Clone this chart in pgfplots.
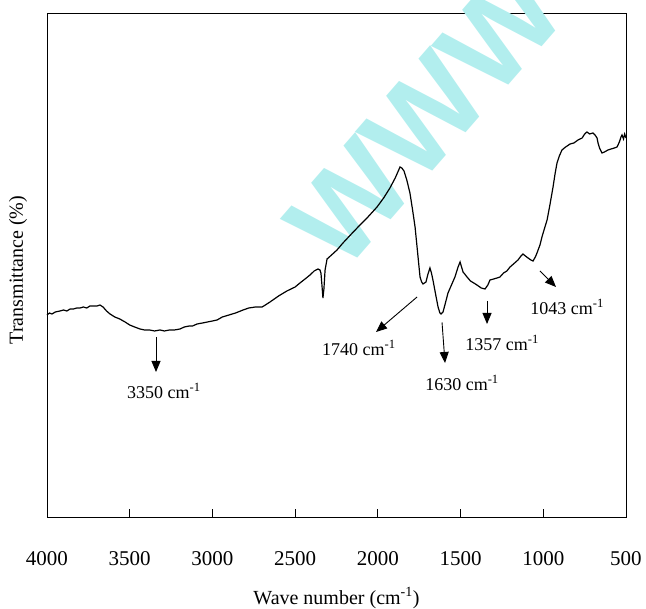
\documentclass[border=0pt]{standalone}
\usepackage{fontspec}
\setmainfont{Liberation Serif}
\newfontfamily\wmfont{Liberation Sans}
\usepackage{pgfplots}
\pgfplotsset{compat=1.18}
\usetikzlibrary{arrows.meta}
\definecolor{wmcyan}{RGB}{178,238,238}
\begin{document}
\begin{tikzpicture}
\begin{axis}[
  name=ax,
  scale only axis,
  width=579pt, height=504pt,
  xmin=500, xmax=4000, ymin=0, ymax=504,
  x dir=reverse,
  clip=false,
  xtick={500,1000,...,4000},
  ytick=\empty,
  tick pos=lower,
  tick align=inside,
  major tick length=8pt,
  axis line style={line width=0.9pt},
  every tick/.style={line width=0.9pt,black},
  /pgf/number format/assume math mode=true,
  /pgf/number format/1000 sep={},
  xticklabel style={font=\fontsize{21}{24}\selectfont, yshift=-31pt},
  xlabel={Wave number (cm\textsuperscript{-1})},
  ylabel={Transmittance (\%)},
  xlabel style={font=\fontsize{20}{24}\selectfont, at={(axis description cs:0.5,0)}, anchor=center, yshift=-81pt},
  ylabel style={font=\fontsize{20}{24}\selectfont, at={(axis description cs:-0.05,0.49)}, anchor=center},
]
\node[overlay, rotate=49, text=wmcyan, font=\wmfont\bfseries\fontsize{122}{122}\selectfont] at (axis cs:1715,400) {WWW};
\addplot[black, line width=1.2pt] coordinates {
(4000,202) (3985,204) (3970,203) (3950,205) (3921,206) (3900,207) (3880,206) (3860,208)
(3840,208) (3820,209) (3800,209) (3780,210) (3760,209) (3740,211) (3720,211) (3698,211)
(3680,212) (3661,210) (3640,206) (3619,203) (3590,200) (3560,198) (3528,195) (3500,192)
(3470,190) (3438,188) (3410,187) (3380,187) (3350,186) (3317,187) (3290,186) (3260,187)
(3230,187) (3196,188) (3170,190) (3140,191) (3120,191) (3093,193) (3060,194) (3030,195)
(3000,196) (2972,197) (2940,200) (2900,202) (2860,204) (2815,207) (2780,209) (2740,210)
(2700,210) (2680,212) (2652,215) (2600,221) (2550,226) (2500,230) (2471,234) (2440,238)
(2410,242) (2385,246) (2362,248) (2350,247) (2344,244) (2338,232) (2332,219) (2326,228)
(2319,247) (2307,258) (2280,262) (2247,267) (2211,274) (2160,283) (2108,292) (2060,300)
(2005,310) (1965,319) (1927,329) (1895,339) (1866,350) (1855,349) (1842,346) (1825,337)
(1806,324) (1790,307) (1775,290) (1760,265) (1745,240) (1735,235) (1727,233) (1718,234)
(1709,235) (1697,243) (1685,249) (1676,244) (1667,237) (1650,222) (1636,210) (1625,204)
(1618,203) (1606,205) (1590,215) (1576,224) (1555,232) (1534,240) (1515,250) (1503,255)
(1494,250) (1485,245) (1475,243) (1461,240) (1440,236) (1420,234) (1401,232) (1375,229)
(1352,228) (1335,232) (1322,237) (1300,238) (1280,239) (1262,240) (1240,244) (1220,246)
(1201,250) (1180,253) (1153,257) (1135,261) (1123,263) (1108,261) (1092,259) (1075,257)
(1062,256) (1048,260) (1038,264) (1020,272) (1008,280) (990,290) (977,297) (960,312)
(941,330) (928,344) (917,354) (903,361) (887,367) (865,370) (838,373) (815,374)
(790,377) (765,379) (750,383) (736,385) (720,383) (700,384) (687,382) (675,379)
(669,374) (660,369) (645,364) (630,365) (609,367) (590,368) (570,369) (554,370)
(540,375) (530,380) (524,382) (515,378) (508,383) (500,379)
};
\draw[-{Triangle[length=11pt,width=9pt]}, line width=0.9pt] (axis cs:3341,180) -- (axis cs:3341,145);
\node[font=\fontsize{18}{20}\selectfont, anchor=center] at (axis cs:3293,126) {3350 cm\textsuperscript{-1}};
\draw[-{Triangle[length=11pt,width=9pt]}, line width=0.9pt] (axis cs:1763,220) -- (axis cs:2011,185);
\node[font=\fontsize{18}{20}\selectfont, anchor=center] at (axis cs:2114,169) {1740 cm\textsuperscript{-1}};
\draw[-{Triangle[length=11pt,width=9pt]}, line width=0.9pt] (axis cs:1612,194.5) -- (axis cs:1594,154);
\node[font=\fontsize{18}{20}\selectfont, anchor=center] at (axis cs:1491,134) {1630 cm\textsuperscript{-1}};
\draw[-{Triangle[length=11pt,width=9pt]}, line width=0.9pt] (axis cs:1340,216) -- (axis cs:1340,193);
\node[font=\fontsize{18}{20}\selectfont, anchor=center] at (axis cs:1249,174) {1357 cm\textsuperscript{-1}};
\draw[-{Triangle[length=11pt,width=9pt]}, line width=0.9pt] (axis cs:1020,246) -- (axis cs:923,230);
\node[font=\fontsize{18}{20}\selectfont, anchor=center] at (axis cs:856,210) {1043 cm\textsuperscript{-1}};
\end{axis}
\pgfresetboundingbox
\path[use as bounding box] ([xshift=-47pt,yshift=-92pt]ax.south west) rectangle ([xshift=20pt,yshift=13pt]ax.north east);
\end{tikzpicture}
\end{document}
